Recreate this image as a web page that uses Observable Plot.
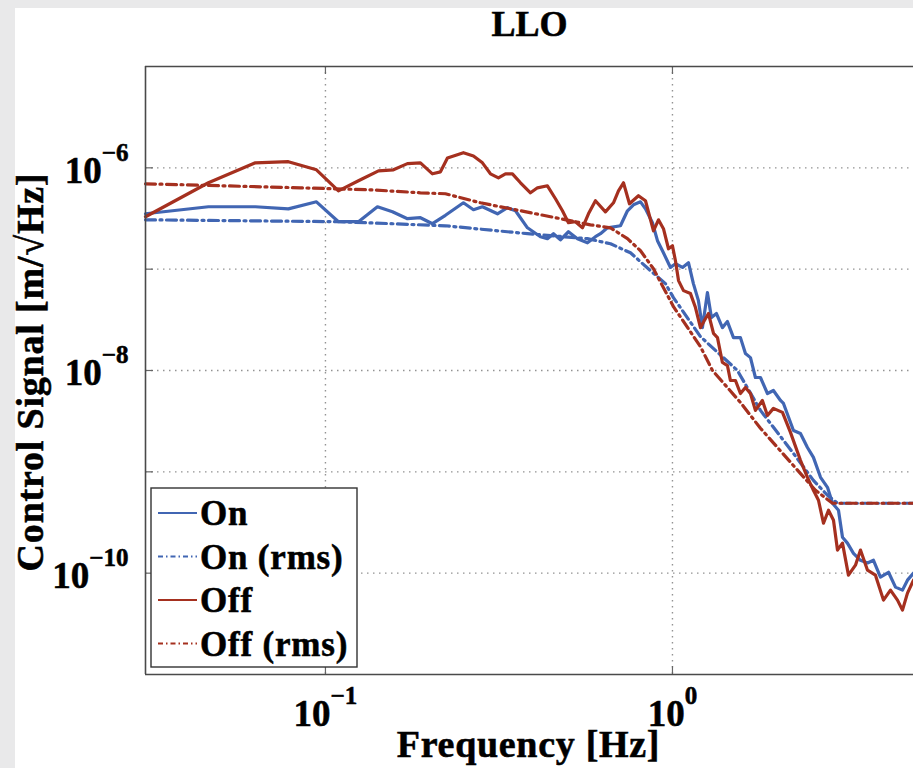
<!DOCTYPE html>
<html>
<head>
<meta charset="utf-8">
<script src="https://cdn.jsdelivr.net/npm/d3@7"></script>
<script src="https://cdn.jsdelivr.net/npm/@observablehq/plot@0.6"></script>
<style>
  html, body { margin: 0; padding: 0; background: #fff; overflow: hidden; }
  #wrap { position: relative; width: 913px; height: 768px; background: #e9e9ea; overflow: hidden; }
  #panel { position: absolute; left: 15px; top: 8px; right: 0; bottom: 0; background: #fff; }
  #wrap svg { position: absolute; left: 0; top: 0; }
  .heavy text { stroke: #000; stroke-width: 0.55px; paint-order: stroke; }
</style>
</head>
<body>
<div id="wrap"><div id="panel"></div></div>
<script>
// ---------- data ----------
const onFreq = [0.0303,0.0460,0.0628,0.0782,0.0942,0.1090,0.1245,0.1412,0.1560,0.1723,0.1878,0.2034,0.2217,0.2498,0.2670,0.2834,0.3131,0.3346,0.3529,0.3821,0.4165,0.4362,0.4540,0.4755,0.5015,0.5324,0.5689,0.5999,0.6202,0.6495,0.7082,0.7419,0.7720,0.8089,0.8361,0.8757,0.9053,0.9358,0.9868,1.020,1.069,1.112,1.149,1.188,1.220,1.261,1.295,1.339,1.393,1.440,1.499,1.570,1.623,1.678,1.734,1.793,1.878,1.954,2.048,2.089,2.232,2.338,2.449,2.548,2.671,2.797,2.892,3.009,3.090,3.193,3.324,3.482,3.648,3.796,3.975,4.194,4.392,4.601,4.756,4.950];
const onVal = [3.52e-7,4.13e-7,4.13e-7,3.94e-7,4.62e-7,2.94e-7,2.94e-7,4.13e-7,3.68e-7,3.15e-7,3.22e-7,2.81e-7,3.40e-7,4.52e-7,3.86e-7,4.13e-7,3.52e-7,4.04e-7,3.77e-7,2.56e-7,2.09e-7,2.00e-7,2.24e-7,1.95e-7,2.34e-7,2.00e-7,1.82e-7,2.09e-7,2.24e-7,2.56e-7,2.68e-7,3.77e-7,4.32e-7,4.62e-7,3.94e-7,2.87e-7,1.91e-7,1.52e-7,1.04e-7,1.13e-7,1.04e-7,1.16e-7,7.20e-8,4.89e-8,2.65e-8,5.87e-8,3.33e-8,3.65e-8,2.65e-8,3.04e-8,2.11e-8,2.11e-8,1.47e-8,1.34e-8,8.53e-9,8.53e-9,5.93e-9,6.35e-9,5.06e-9,4.73e-9,2.56e-9,2.39e-9,1.74e-9,1.39e-9,8.83e-10,7.03e-10,4.90e-10,4.18e-10,2.26e-10,1.98e-10,1.57e-10,1.34e-10,1.26e-10,1.34e-10,9.14e-11,1.02e-10,7.28e-11,6.80e-11,8.53e-11,1.00e-10];

const offFreq = [0.0303,0.0460,0.0628,0.0782,0.0942,0.1090,0.1245,0.1422,0.1570,0.1723,0.1878,0.2034,0.2145,0.2247,0.2498,0.2670,0.2834,0.2989,0.3151,0.3302,0.3458,0.3648,0.3898,0.4083,0.4362,0.4601,0.4819,0.5015,0.5253,0.5504,0.5727,0.5999,0.6410,0.6761,0.6989,0.7225,0.7518,0.7980,0.8361,0.8816,0.9113,0.9420,0.9739,1.000,1.020,1.041,1.076,1.127,1.165,1.204,1.236,1.270,1.313,1.348,1.393,1.440,1.469,1.519,1.570,1.623,1.678,1.734,1.816,1.878,1.954,2.075,2.188,2.338,2.449,2.548,2.635,2.724,2.816,2.911,2.989,3.090,3.215,3.368,3.482,3.648,3.846,4.056,4.249,4.451,4.601,4.756,4.950];
const offVal = [3.29e-7,7.12e-7,1.12e-6,1.15e-6,9.56e-7,5.93e-7,7.45e-7,9.34e-7,9.56e-7,1.10e-6,1.12e-6,8.73e-7,9.13e-7,1.25e-6,1.41e-6,1.31e-6,1.12e-6,8.73e-7,7.97e-7,8.73e-7,8.73e-7,7.12e-7,5.67e-7,6.35e-7,6.65e-7,4.95e-7,3.77e-7,2.87e-7,2.94e-7,2.56e-7,3.52e-7,4.73e-7,3.68e-7,4.52e-7,5.93e-7,7.12e-7,4.42e-7,5.30e-7,4.73e-7,2.39e-7,3.07e-7,2.51e-7,1.59e-7,1.70e-7,1.21e-7,7.71e-8,6.14e-8,5.74e-8,4.18e-8,2.65e-8,3.11e-8,3.65e-8,2.32e-8,2.11e-8,1.20e-8,1.12e-8,7.97e-9,7.97e-9,5.93e-9,6.80e-9,5.93e-9,4.04e-9,5.06e-9,3.60e-9,4.23e-9,3.86e-9,2.45e-9,1.30e-9,8.83e-10,6.57e-10,5.24e-10,3.11e-10,4.18e-10,3.33e-10,1.69e-10,1.98e-10,9.56e-11,1.20e-10,1.69e-10,1.07e-10,9.56e-11,5.42e-11,6.80e-11,5.42e-11,4.32e-11,6.35e-11,8.53e-11];

const onRmsFreq = [0.0303,0.1105,0.2217,0.3821,0.5689,0.663,0.7568,0.8642,0.9546,1.0066,1.204,1.539,1.793,2.232,2.548,2.797,2.989,4.95];
const onRmsVal = [3.07e-7,2.94e-7,2.68e-7,2.24e-7,2.00e-7,1.78e-7,1.45e-7,9.67e-8,7.20e-8,5.24e-8,2.16e-8,1.00e-8,4.04e-9,1.52e-9,8.24e-10,5.87e-10,4.90e-10,4.90e-10];

const offRmsFreq = [0.0303,0.0847,0.1348,0.1878,0.2217,0.2797,0.3648,0.4755,0.5802,0.663,0.7419,0.8089,0.8816,1.0066,1.204,1.304,1.570,1.793,2.292,2.583,2.892,4.95];
const offRmsVal = [6.96e-7,6.35e-7,6.07e-7,5.67e-7,5.55e-7,4.52e-7,3.77e-7,3.15e-7,2.74e-7,2.56e-7,2.00e-7,1.52e-7,1.01e-7,4.27e-8,1.72e-8,1.00e-8,4.84e-9,2.69e-9,1.04e-9,6.57e-10,4.90e-10,4.90e-10];

const xTicks = [0.1, 1];
const yTicks = [1e-10, 1e-8, 1e-6];
const yGrid = [1e-10, 1e-9, 1e-8, 1e-7, 1e-6];
const xDomain = [0.0303, 4.95];
const yDomain = [1e-11, 1e-5];

const titleText = "LLO";
const xLabel = "Frequency [Hz]";
const yLabel = "Control Signal [m/\u221AHz]";
const seriesNames = ["On", "On (rms)", "Off", "Off (rms)"];

// ---------- styles ----------
const BLUE = "#4166b3";
const RED = "#a5301f";
const DASHDOT = "10,4.5,2,4.5";
const FONT = "'Liberation Serif', 'Times New Roman', serif";

const rows = (fs, vs) => fs.map((f, i) => ({f, v: vs[i]}));
const onRows = rows(onFreq, onVal);
const offRows = rows(offFreq, offVal);
const onRmsRows = rows(onRmsFreq, onRmsVal);
const offRmsRows = rows(offRmsFreq, offRmsVal);

const expFmt = d => { const e = Math.round(Math.log10(d)); return e < 0 ? "\u2212" + (-e) : String(e); };

const gridStyle = {stroke: "#939393", strokeWidth: 1.4, strokeDasharray: "1.5,4.5"};
const frameStroke = {stroke: "#4a4a4a", strokeWidth: 1.6};

const chart = Plot.plot({
  width: 913,
  height: 768,
  marginTop: 66,
  marginBottom: 94,
  marginLeft: 145,
  marginRight: 0,
  className: "heavy",
  style: {background: "transparent", fontFamily: FONT, fontSize: "37px", fontWeight: "bold", color: "#000"},
  x: {type: "log", domain: xDomain},
  y: {type: "log", domain: yDomain},
  marks: [
    Plot.ruleY(yGrid, {y: d => d, ...gridStyle}),
    Plot.ruleX(xTicks, {x: d => d, ...gridStyle}),
    Plot.tickY(yGrid, {y: d => d, insetRight: 760, stroke: "#666", strokeWidth: 1.2}),
    Plot.tickX(xTicks, {x: d => d, insetTop: 600, stroke: "#666", strokeWidth: 1.2}),
    Plot.tickX(xTicks, {x: d => d, insetBottom: 600, stroke: "#666", strokeWidth: 1.2}),
    Plot.line(onRows, {x: "f", y: "v", stroke: BLUE, strokeWidth: 3.2}),
    Plot.line(onRmsRows, {x: "f", y: "v", stroke: BLUE, strokeWidth: 3.2, strokeDasharray: DASHDOT}),
    Plot.line(offRows, {x: "f", y: "v", stroke: RED, strokeWidth: 3.2}),
    Plot.line(offRmsRows, {x: "f", y: "v", stroke: RED, strokeWidth: 3.2, strokeDasharray: DASHDOT}),
    Plot.ruleX([xDomain[0]], {x: d => d, ...frameStroke}),
    Plot.ruleY([yDomain[1], yDomain[0]], {y: d => d, ...frameStroke}),
    Plot.axisX(xTicks, {tickSize: 0, tickPadding: 25, tickFormat: expFmt, label: null, fontSize: 37, fontWeight: "bold"}),
    Plot.axisY(yTicks, {tickSize: 0, tickPadding: 17, dy: 3, tickFormat: expFmt, label: null, fontSize: 37, fontWeight: "bold"})
  ]
});

// turn tick labels into 10^exp with a real superscript
d3.select(chart).selectAll('g[aria-label="x-axis tick label"] text, g[aria-label="y-axis tick label"] text').each(function () {
  const t = d3.select(this);
  const exp = t.text();
  t.text("10");
  t.append("tspan").attr("dy", -22).attr("font-size", 25).text(exp);
});

const wrap = document.getElementById("wrap");
wrap.appendChild(chart);

// ---------- overlay: title, axis labels, legend ----------
const ov = d3.select(wrap).append("svg")
  .attr("class", "heavy")
  .attr("width", 913).attr("height", 768)
  .style("font-family", FONT).style("font-weight", "bold");

ov.append("text").attr("x", 529.5).attr("y", 36).attr("text-anchor", "middle")
  .attr("font-size", 36).text(titleText);
ov.append("text").attr("x", 528.5).attr("y", 757).attr("text-anchor", "middle")
  .attr("font-size", 38).attr("letter-spacing", 0.7).text(xLabel);
ov.append("text").attr("transform", "translate(43,372) rotate(-90)").attr("text-anchor", "middle")
  .attr("font-size", 38).attr("letter-spacing", 0.8).text(yLabel);

const lg = ov.append("g");
lg.append("rect").attr("x", 151).attr("y", 488).attr("width", 206).attr("height", 179)
  .attr("fill", "#fff").attr("stroke", "#333").attr("stroke-width", 1.4);
const legendColors = [BLUE, BLUE, RED, RED];
const legendDash = [null, "5,3,1.5,3", null, "5,3,1.5,3"];
seriesNames.forEach((name, i) => {
  const base = 525 + i * 43.5;
  lg.append("line").attr("x1", 158).attr("x2", 197).attr("y1", base - 12).attr("y2", base - 12)
    .attr("stroke", legendColors[i]).attr("stroke-width", 2)
    .attr("stroke-dasharray", legendDash[i]);
  lg.append("text").attr("x", 200).attr("y", base).attr("font-size", 35).attr("letter-spacing", 0.8).text(name);
});
</script>
</body>
</html>
